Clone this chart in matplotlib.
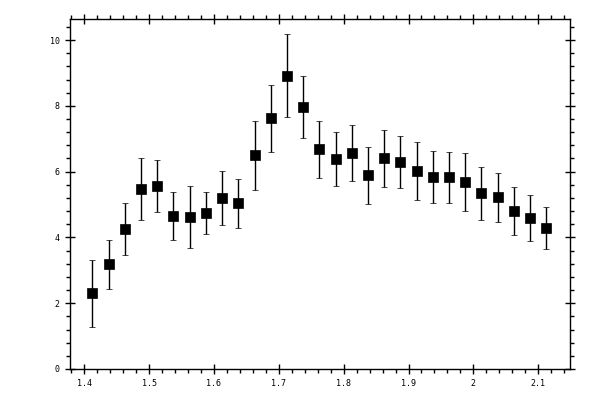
import matplotlib.pyplot as plt
from matplotlib.ticker import MultipleLocator

x = [1.4125, 1.4375, 1.4625, 1.4875, 1.5125, 1.5375, 1.5625, 1.5875, 1.6125, 1.6375,
     1.6625, 1.6875, 1.7125, 1.7375, 1.7625, 1.7875, 1.8125, 1.8375, 1.8625, 1.8875,
     1.9125, 1.9375, 1.9625, 1.9875, 2.0125, 2.0375, 2.0625, 2.0875, 2.1125]
y = [2.30, 3.18, 4.25, 5.47, 5.56, 4.65, 4.62, 4.74, 5.19, 5.04,
     6.50, 7.62, 8.92, 7.96, 6.68, 6.38, 6.56, 5.89, 6.41, 6.29,
     6.01, 5.83, 5.83, 5.68, 5.34, 5.22, 4.80, 4.59, 4.28]
err = [1.01, 0.75, 0.79, 0.94, 0.78, 0.73, 0.95, 0.65, 0.82, 0.74,
       1.05, 1.01, 1.26, 0.94, 0.87, 0.82, 0.85, 0.87, 0.87, 0.78,
       0.88, 0.79, 0.78, 0.88, 0.80, 0.75, 0.72, 0.71, 0.64]

fig = plt.figure(figsize=(6, 4), dpi=100)
ax = fig.add_axes([70/600, 31/400, 500/600, 350/400])

ax.errorbar(x, y, yerr=err, fmt='s', color='black', markersize=6.5,
            markeredgewidth=0.5, elinewidth=1, capsize=2, capthick=1)

ax.set_xlim(1.378, 2.149)
ax.set_ylim(0, 10.64)

ax.xaxis.set_major_locator(MultipleLocator(0.1))
ax.xaxis.set_minor_locator(MultipleLocator(0.02))
ax.yaxis.set_major_locator(MultipleLocator(2))
ax.yaxis.set_minor_locator(MultipleLocator(0.4))

for s in ax.spines.values():
    s.set_linewidth(1)

ax.tick_params(which='major', direction='inout', length=7, width=1,
               top=True, right=True, labelsize=6, pad=4)
ax.tick_params(which='minor', direction='out', length=3, width=1,
               top=True, right=True)
for lab in ax.get_xticklabels() + ax.get_yticklabels():
    lab.set_family('DejaVu Sans Mono')
ax.xaxis.set_major_formatter(plt.FuncFormatter(lambda v, p: f'{v:g}'))

fig.savefig('out.png', dpi=100)
